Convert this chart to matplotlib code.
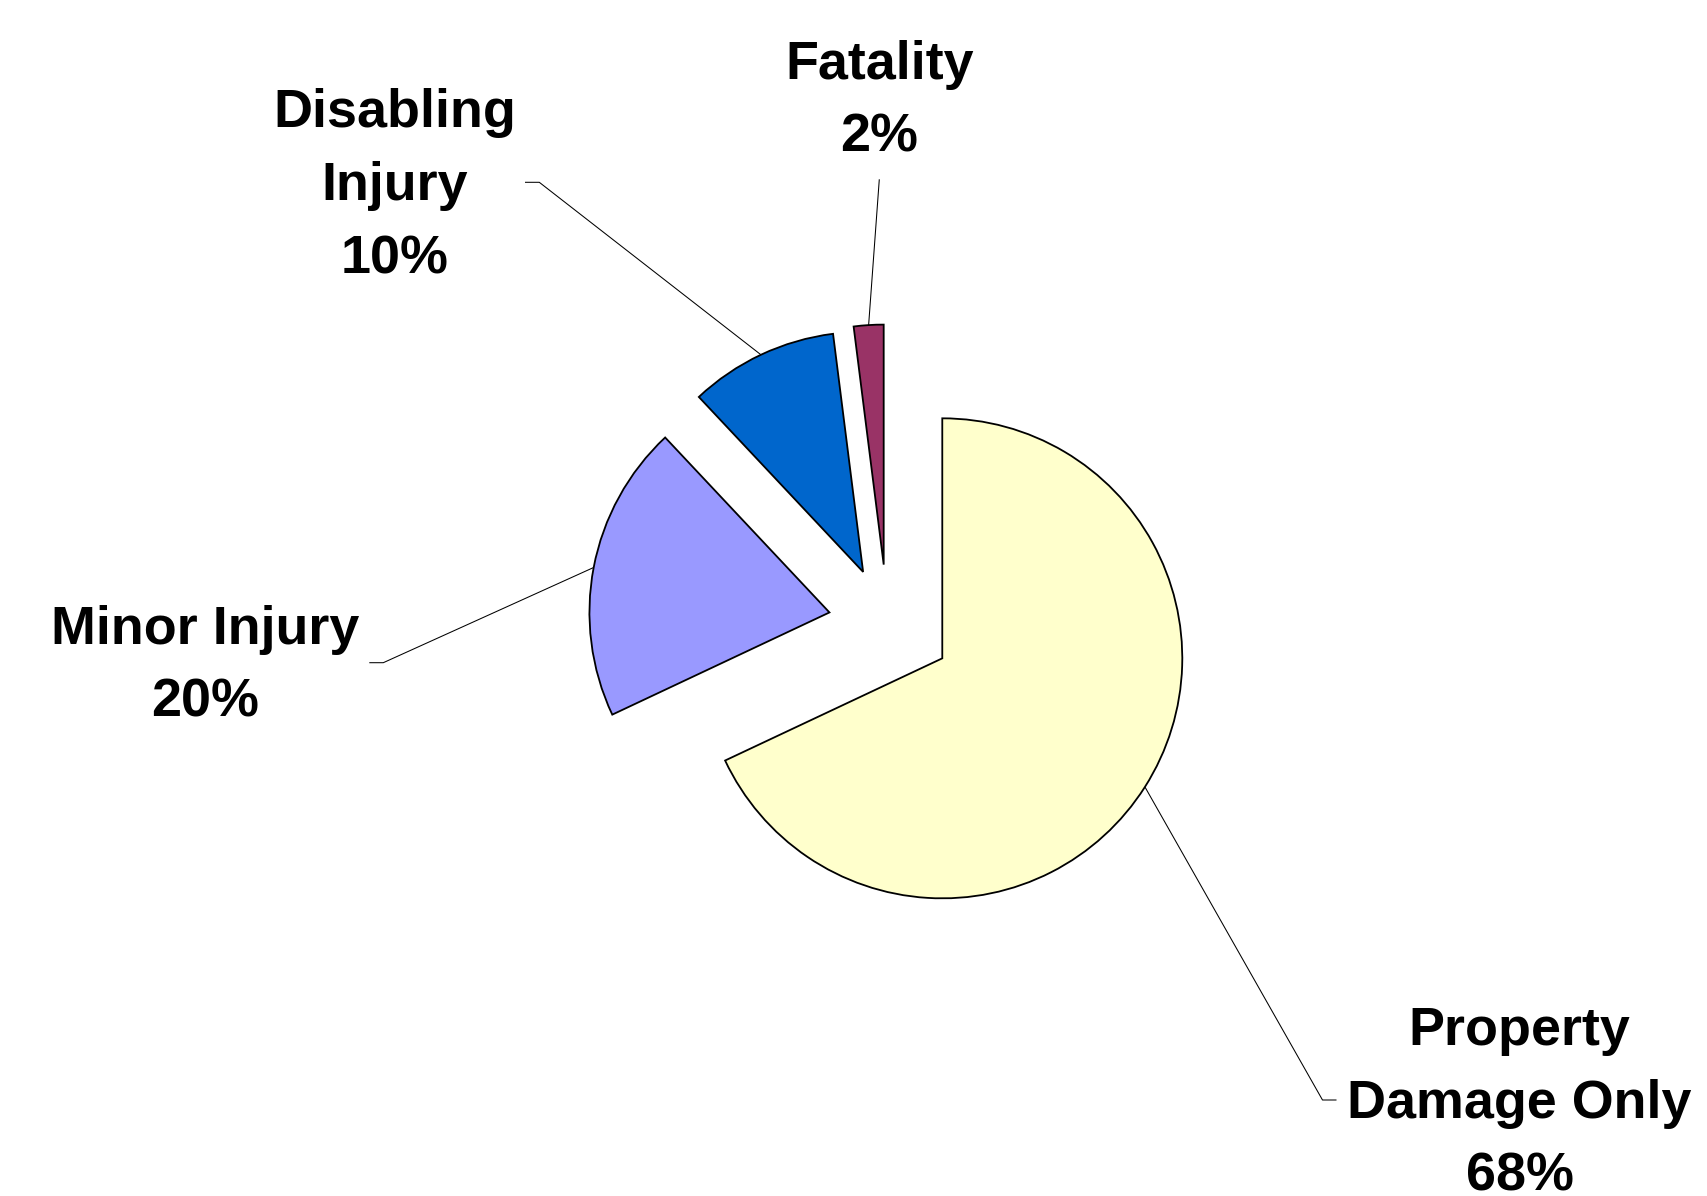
import matplotlib
matplotlib.use('Agg')
import matplotlib.pyplot as plt
import numpy as np

# ---- data ----
categories = ['Property\nDamage Only', 'Minor Injury', 'Disabling\nInjury', 'Fatality']
shares = [68, 20, 10, 2]
colors = ['#FFFFCC', '#9999FF', '#0066CC', '#993366']

# ---- layout (pixel space, y measured from top) ----
W, H = 1707, 1196
pie_center = (887.4, 623.5)
pie_radius = 240
explode = [65, 59, 57, 59]
# (center x, baseline of last line)
label_pos = [(1519.7, 1190.7), (205, 716.7), (395, 273.3), (879.5, 151.7)]
leader_ends = [
    [(1322.5, 1100), (1336.5, 1100)],
    [(383.3, 662.7), (369.3, 662.7)],
    [(539.3, 182.3), (525, 182.3)],
    [(879.3, 179.3)],
]


def up(y):
    return H - y


fig = plt.figure(figsize=(W / 100, H / 100), dpi=100)
ax = fig.add_axes([0, 0, 1, 1])

wedges, _ = ax.pie(shares, colors=colors, explode=explode, startangle=90,
                   counterclock=False, radius=pie_radius,
                   center=(pie_center[0], up(pie_center[1])),
                   wedgeprops=dict(edgecolor='black', linewidth=1.3))

for w, cat, val, (lx, ly), ends in zip(wedges, categories, shares, label_pos, leader_ends):
    tm = np.deg2rad((w.theta1 + w.theta2) / 2)
    sx = w.center[0] + w.r * np.cos(tm)
    sy = w.center[1] + w.r * np.sin(tm)
    xs = [sx] + [e[0] for e in ends]
    ys = [sy] + [up(e[1]) for e in ends]
    ax.plot(xs, ys, color='black', linewidth=0.75, solid_capstyle='butt')
    ax.text(lx, up(ly), f'{cat}\n{val}%', ha='center', va='baseline',
            multialignment='center', fontsize=38.8, fontweight='bold',
            family='Liberation Sans', linespacing=1.59, color='black')

ax.set_xlim(0, W)
ax.set_ylim(0, H)
ax.set_aspect('auto')
ax.axis('off')

fig.savefig('out.png', dpi=100, facecolor='white')
